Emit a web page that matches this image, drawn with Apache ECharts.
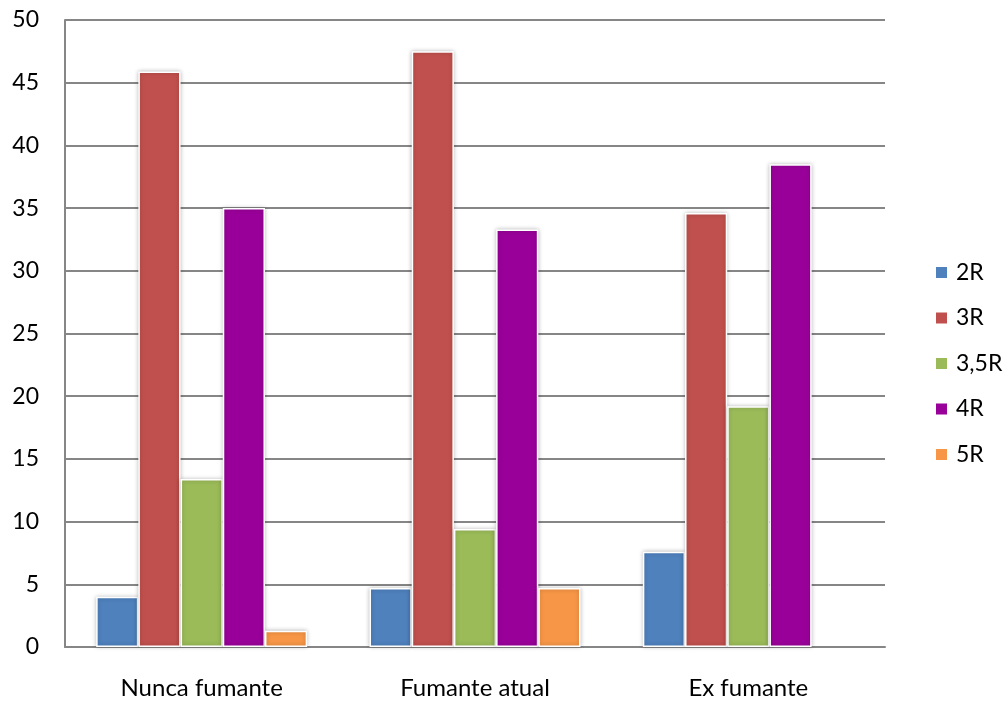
<!DOCTYPE html>
<html>
<head>
<meta charset="utf-8">
<script src="https://cdn.jsdelivr.net/npm/echarts@6/dist/echarts.min.js"></script>
<style>html,body{margin:0;padding:0;background:#fff}#c{width:1004px;height:702px}</style>
</head>
<body>
<div id="c"></div>
<script>
var categories = ['Nunca fumante', 'Fumante atual', 'Ex fumante'];
var seriesNames = ['2R', '3R', '3,5R', '4R', '5R'];
var v2R = [4.0, 4.7, 7.6];
var v3R = [45.9, 47.5, 34.6];
var v35R = [13.4, 9.4, 19.2];
var v4R = [35.0, 33.3, 38.5];
var v5R = [1.3, 4.7, 0];
var yTicks = [0, 5, 10, 15, 20, 25, 30, 35, 40, 45, 50];
var colors = ['#4F81BD', '#C0504D', '#9BBB59', '#990099', '#F79646'];
var allValues = [v2R, v3R, v35R, v4R, v5R];

var font = 'Lato, "Open Sans", sans-serif';
var chart = echarts.init(document.getElementById('c'));
chart.setOption({
  animation: false,
  backgroundColor: '#fff',
  grid: { left: 65, right: 119, top: 20, bottom: 55, containLabel: false },
  legend: {
    orient: 'vertical',
    left: 929, top: 256,
    itemWidth: 13, itemHeight: 13, itemGap: 22.5,
    icon: 'rect',
    textStyle: { fontFamily: font, fontSize: 23, color: '#000', padding: [0, 0, 0, 3] },
    data: seriesNames
  },
  xAxis: {
    type: 'category',
    data: categories,
    axisLine: { lineStyle: { color: '#868686', width: 2 } },
    axisTick: { show: false },
    axisLabel: { fontFamily: font, fontSize: 24, color: '#000', margin: 29 }
  },
  yAxis: {
    type: 'value',
    min: yTicks[0], max: yTicks[yTicks.length - 1], interval: 5,
    axisLine: { show: true, lineStyle: { color: '#868686', width: 2 } },
    axisTick: { show: false },
    splitLine: { lineStyle: { color: '#868686', width: 2 } },
    axisLabel: { fontFamily: font, fontSize: 23, color: '#000', margin: 26 }
  },
  series: seriesNames.map(function (n, i) {
    return {
      name: n,
      type: 'bar',
      data: allValues[i].map(function (v) {
        return v === 0 ? { value: v, itemStyle: { borderWidth: 0, shadowBlur: 0 } } : v;
      }),
      barGap: '0%',
      barCategoryGap: '22.8%',
      itemStyle: {
        color: colors[i],
        borderColor: '#fff',
        borderWidth: 1.5,
        shadowColor: 'rgba(0,0,0,0.25)',
        shadowBlur: 4
      }
    };
  })
});
</script>
</body>
</html>
